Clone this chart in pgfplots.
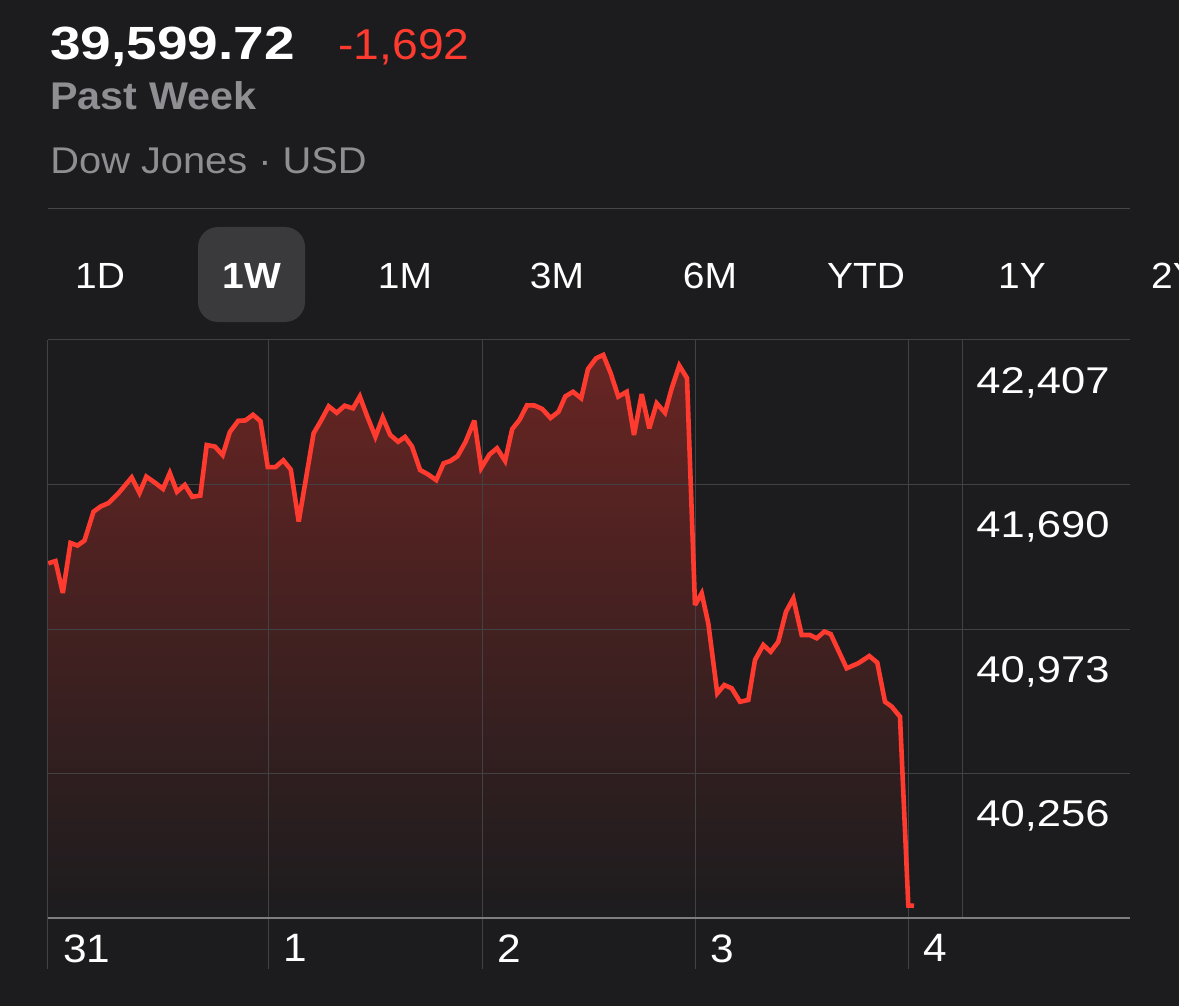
\documentclass[border=0pt]{standalone}
\usepackage{fontspec}
\setmainfont{Liberation Sans}
\newfontfamily\numfont[FakeStretch=1.17]{Liberation Sans}
\newfontfamily\hdrfont[FakeStretch=1.18]{Liberation Sans}
\newfontfamily\txtfont[FakeStretch=1.07]{Liberation Sans}
\usepackage{pgfplots}
\usepackage{pgfplotstable}
\pgfplotsset{compat=1.18}

\definecolor{bgc}{RGB}{28,28,30}
\definecolor{stockred}{RGB}{255,59,48}
\definecolor{labelgray}{RGB}{142,142,147}
\definecolor{gridc}{RGB}{66,66,69}
\definecolor{sepc}{RGB}{70,70,73}
\definecolor{basec}{RGB}{125,125,130}
\definecolor{pillc}{RGB}{58,58,61}
\definecolor{filltop}{RGB}{104,37,35}

% Dow Jones, past week (trading-time position, index level)
\pgfplotstableread{
t v
0.3 41299
7.5 41310
14.8 41152
22.5 41400
29.5 41387
36.5 41412
45.5 41555
52.7 41581
60.5 41598
70.3 41646
83.7 41725
91.5 41648
98.3 41729
107.0 41699
115.0 41668
121.8 41747
129.0 41654
136.8 41688
144.2 41629
152.3 41635
158.7 41886
167.0 41878
174.7 41836
181.8 41950
190.2 42006
197.5 42008
205.0 42036
212.5 42004
219.8 41776
227.3 41776
235.3 41810
242.8 41764
250.7 41506
265.6 41944
272.8 42005
280.7 42078
288.7 42046
296.7 42081
305.0 42068
311.8 42127
319.4 42026
327.4 41927
334.7 42023
342.2 41936
350.2 41902
357.0 41926
364.0 41879
372.1 41762
380.1 41740
388.2 41712
395.6 41795
402.4 41807
409.6 41831
417.5 41901
426.3 42007
433.2 41772
441.5 41839
449.0 41870
457.1 41807
464.2 41965
471.4 42010
479.0 42083
486.5 42082
494.2 42065
502.5 42020
510.5 42051
517.3 42127
525.0 42150
533.2 42118
540.0 42263
548.0 42316
555.3 42333
562.7 42242
570.3 42126
578.7 42150
586.0 41936
593.7 42139
601.3 41969
608.7 42093
617.0 42046
623.7 42167
631.3 42280
639.0 42218
647.0 41092
653.7 41150
660.3 41001
669.3 40654
676.3 40695
683.7 40679
692.0 40612
700.3 40621
707.0 40819
715.3 40894
722.7 40860
730.3 40910
738.0 41059
745.3 41125
753.7 40943
762.0 40943
768.7 40927
776.3 40960
782.7 40948
798.7 40778
810.3 40803
821.3 40839
829.3 40806
837.0 40612
843.7 40588
852.0 40538
860.3 39601
866.0 39599.72
}\dowweek

\pgfplotsset{
  chartframe/.style={
    at={(24pt,-459pt)}, anchor=south west,
    scale only axis, width=541pt, height=289pt,
    xmin=0, xmax=1082, ymin=39539, ymax=42407,
    scaled y ticks=false,
  },
}

\begin{document}
\begin{tikzpicture}
\path[use as bounding box] (0pt,0pt) rectangle (589.5pt,-503pt);
\clip (0pt,0pt) rectangle (589.5pt,-503pt);
\begin{scope}[x=0.5pt,y=-0.5pt]
  \fill[bgc] (0,0) rectangle (1179,1006);
  % header
  \node[anchor=base west, inner sep=0, text=white,
        font=\hdrfont\bfseries\fontsize{23.3pt}{28pt}\selectfont] at (50,60) {39,599.72};
  \node[anchor=base west, inner sep=0, text=stockred,
        font=\txtfont\fontsize{21.6pt}{26pt}\selectfont] at (338,59.3) {-1,692};
  \node[anchor=base west, inner sep=0, text=labelgray,
        font=\txtfont\bfseries\fontsize{19.3pt}{23pt}\selectfont] at (50,109.3) {Past Week};
  \node[anchor=base west, inner sep=0, text=labelgray,
        font=\txtfont\fontsize{18.6pt}{22pt}\selectfont] at (50,173.3) {Dow Jones · USD};
  \draw[sepc, line width=0.5pt] (48,208.3) -- (1130,208.3);
  % range selector
  \fill[pillc, rounded corners=10pt] (198,227) rectangle (305,322);
  \begin{scope}[every node/.style={anchor=base, inner sep=0, text=white,
        font=\txtfont\fontsize{18.2pt}{22pt}\selectfont}]
    \node at (100,288) {1D};
    \node[font=\txtfont\bfseries\fontsize{18.2pt}{22pt}\selectfont] at (252,288) {1W};
    \node at (405,288) {1M};
    \node at (557,288) {3M};
    \node at (710,288) {6M};
    \node at (866,288) {YTD};
    \node at (1022,288) {1Y};
    \node at (1175,288) {2Y};
  \end{scope}
\end{scope}

% shaded area under the curve, drawn below the grid
\begin{axis}[chartframe, hide axis]
\addplot[draw=none, top color=filltop, bottom color=bgc]
  table[x=t, y=v] {\dowweek} |- (axis cs:0.3,39539) -- cycle;
\end{axis}

% grid, labels and price line
\begin{axis}[
  chartframe,
  axis line style={draw=none},
  xtick={0,220,434,647,860},
  xticklabels={31,1,2,3,4},
  extra x ticks={914}, extra x tick labels={},
  extra x tick style={major tick length=0pt},
  ytick={40256,40973,41690,42407},
  yticklabels={{40,256},{40,973},{41,690},{42,407}},
  extra y ticks={39539}, extra y tick labels={},
  extra y tick style={grid style={basec, line width=0.8pt}},
  grid=major, grid style={gridc, line width=0.5pt},
  tick align=outside, major tick length=25.5pt,
  xtick pos=lower, ytick pos=right, yticklabel pos=right,
  ytick style={draw=none},
  xtick style={gridc, line width=0.5pt},
  xticklabel style={anchor=north west, inner sep=0pt, text=white,
    font=\txtfont\fontsize{19.8pt}{24pt}\selectfont, xshift=7.5pt, yshift=17.5pt},
  yticklabel style={anchor=north west, inner sep=0pt, text=white,
    font=\numfont\fontsize{18.6pt}{22pt}\selectfont, xshift=-102.5pt, yshift=-13.5pt},
]
\addplot[stockred, line width=2.3pt, line join=miter, miter limit=3]
  table[x=t, y=v] {\dowweek};
\end{axis}
\end{tikzpicture}
\end{document}
